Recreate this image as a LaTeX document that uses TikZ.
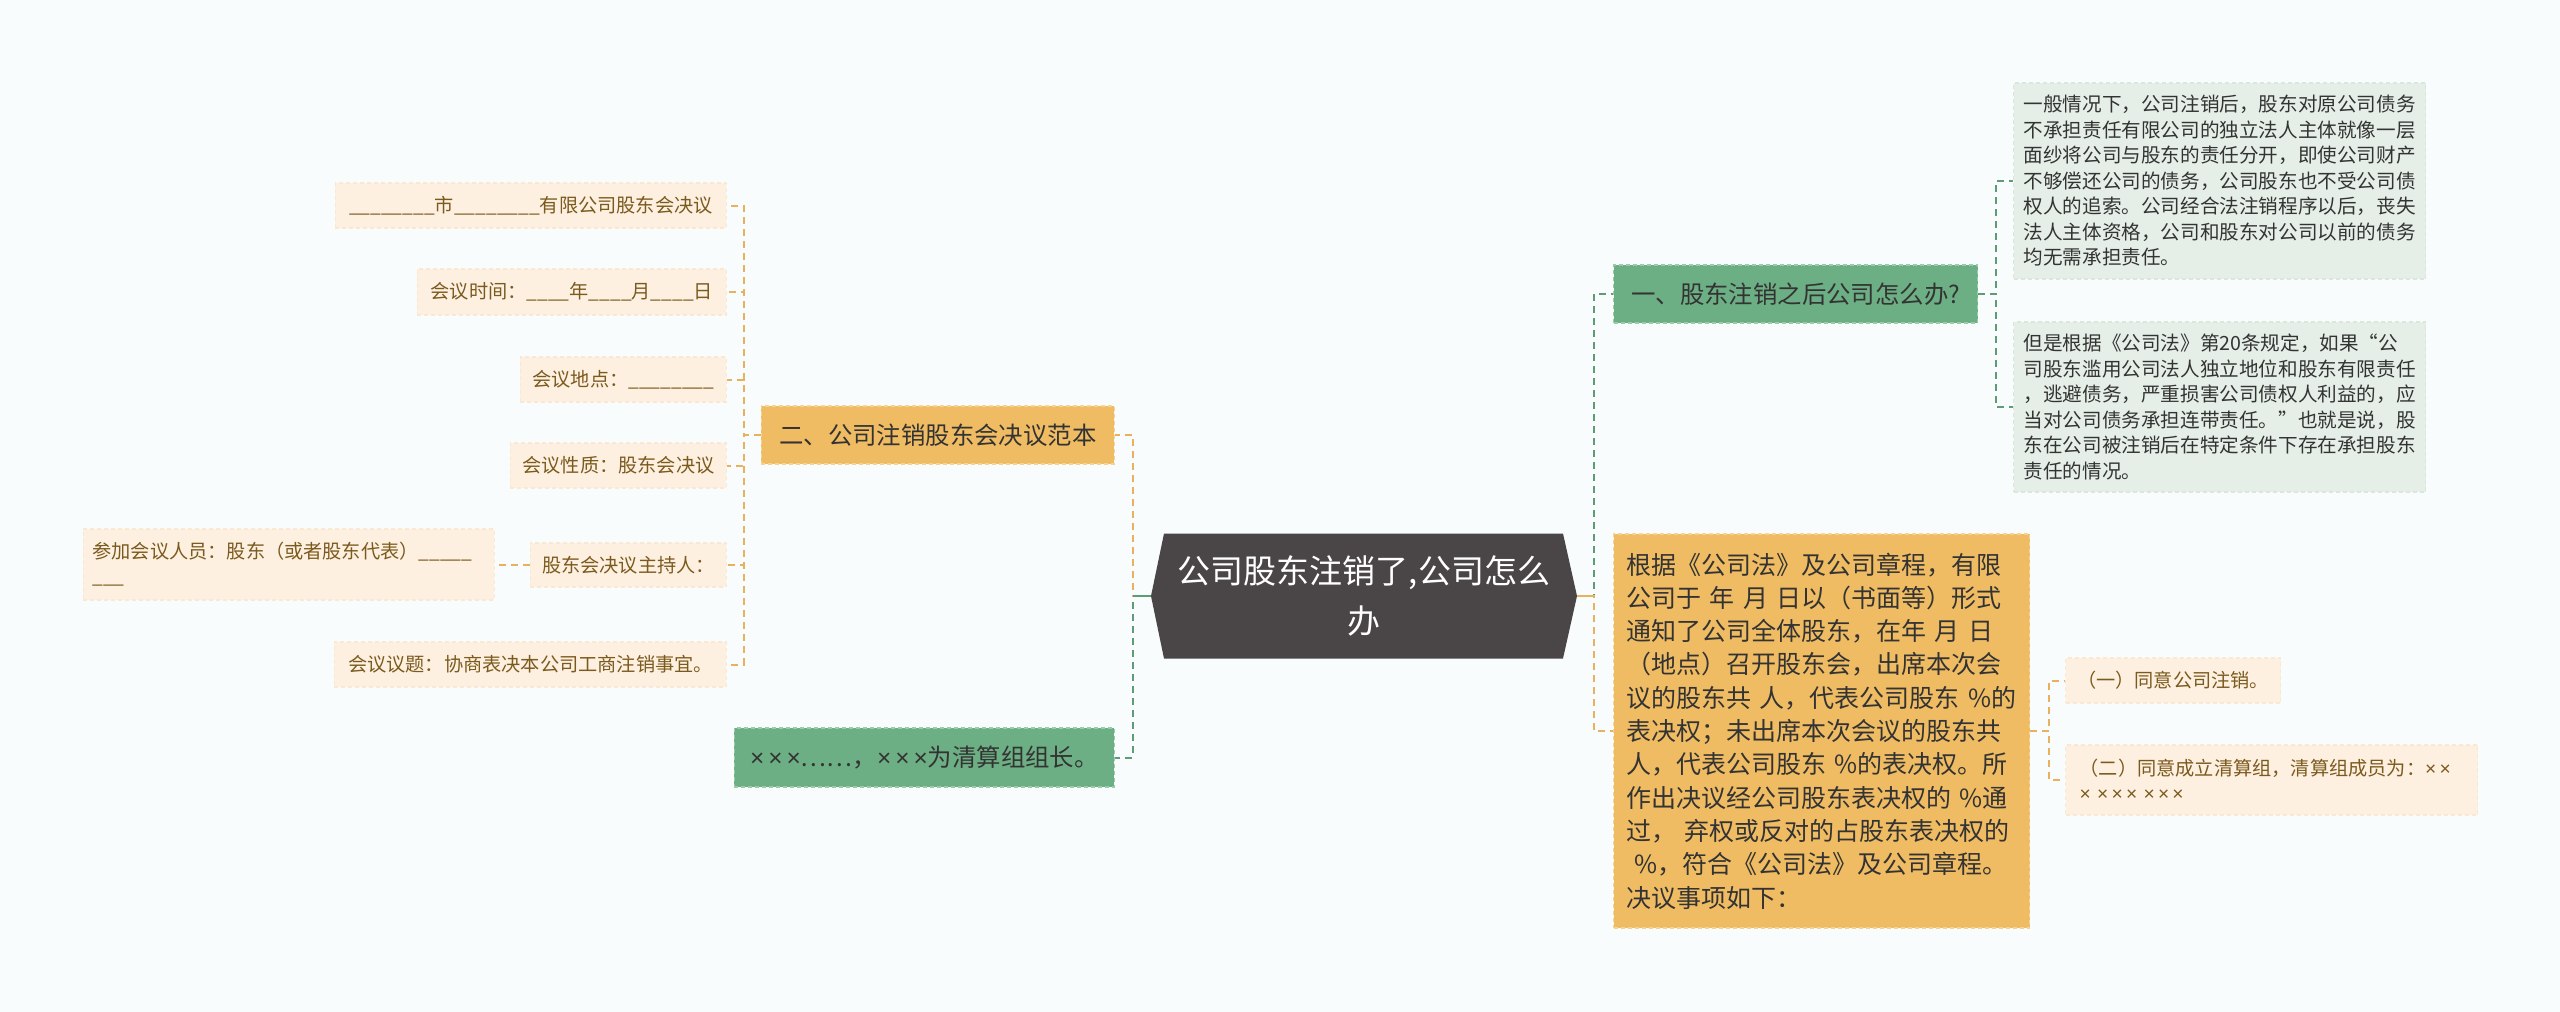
\documentclass[tikz,border=0pt]{standalone}
\usepackage{fontspec}
\setmainfont{Noto Sans CJK SC}
\newfontfamily\latinfont{Liberation Sans}
\usetikzlibrary{calc}
\newcommand{\myfs}[2]{\fontsize{#1}{#2}\selectfont}
\newcommand{\tx}{{\latinfont ×}}
\definecolor{bgc}{HTML}{F8FCFC}
\definecolor{rootc}{HTML}{4A4546}
\definecolor{orF}{HTML}{F0BC63}
\definecolor{orB}{HTML}{F6D393}
\definecolor{grF}{HTML}{6DAF84}
\definecolor{grB}{HTML}{9CCBAA}
\definecolor{beF}{HTML}{FDF0E0}
\definecolor{beB}{HTML}{FAE8D2}
\definecolor{lgF}{HTML}{E5EFE7}
\definecolor{lgB}{HTML}{DAE7DD}
\definecolor{brT}{HTML}{7B5A1E}
\definecolor{dkT}{HTML}{333333}
\definecolor{oE}{HTML}{E7B160}
\definecolor{gE}{HTML}{5E9C75}
\tikzset{
  box/.style={rectangle, inner ysep=0pt, align=center, dash pattern=on 2pt off 1.5pt, line width=0.6pt},
  rootbox/.style={rectangle, inner sep=0pt, align=center, minimum width=213pt, minimum height=62.5pt,
    text=white, font=\myfs{16.5pt}{25pt},
    path picture={\fill[rootc] (path picture bounding box.west)
      -- ([xshift=6.5pt]path picture bounding box.north west)
      -- ([xshift=-7pt]path picture bounding box.north east)
      -- (path picture bounding box.east)
      -- ([xshift=-7pt]path picture bounding box.south east)
      -- ([xshift=6.5pt]path picture bounding box.south west) -- cycle;}},
  obranch/.style={box, fill=orF, draw=orB, text=dkT, font=\myfs{12.2pt}{15pt}, minimum height=29pt},
  gbranch/.style={box, fill=grF, draw=grB, text=dkT, font=\myfs{12.2pt}{15pt}, minimum height=29pt},
  bleaf/.style={box, fill=beF, draw=beB, text=brT, font=\myfs{9.6pt}{12.5pt}, minimum height=22.5pt},
  gleaf/.style={box, fill=lgF, draw=lgB, text=dkT, font=\myfs{9.8pt}{12.75pt}, align=left, inner xsep=5pt, text width=196pt},
  bigbox/.style={box, fill=orF, draw=orB, text=dkT, font=\myfs{12.5pt}{16.65pt}, align=left, inner xsep=6.5pt, text width=195pt, minimum height=197pt},
  oedge/.style={draw=oE, line width=1pt, dash pattern=on 3.5pt off 2.5pt},
  gedge/.style={draw=gE, line width=1pt, dash pattern=on 3.5pt off 2.5pt},
}
\begin{document}
\begin{tikzpicture}[x=0.5pt,y=-0.5pt]
\fill[bgc] (0,0) rectangle (2560,1012);
\useasboundingbox (0,0) rectangle (2560,1012);

% root
\node[rootbox] (root) at (1364,596) {公司股东注销了,公司怎么\\办};

% left branches
\node[obranch, anchor=east, minimum width=176.5pt] (b2) at (1115,435) {二、公司注销股东会决议范本};
\node[gbranch, anchor=east, minimum width=190pt, minimum height=29.5pt] (b3) at (1115,757.5) {\tx\,\tx\,\tx……，\tx\,\tx\,\tx 为清算组组长。};

% left leaves
\node[bleaf, anchor=east, minimum width=195.5pt] (l1) at (727,205.5) {\_\_\_\_\_\_\_\_市\_\_\_\_\_\_\_\_有限公司股东会决议};
\node[bleaf, anchor=east, minimum width=154.5pt, minimum height=23pt] (l2) at (727,292) {会议时间：\_\_\_\_年\_\_\_\_月\_\_\_\_日};
\node[bleaf, anchor=east, minimum width=103pt] (l3) at (727,379.5) {会议地点：\_\_\_\_\_\_\_\_};
\node[bleaf, anchor=east, minimum width=108pt] (l4) at (727,465.5) {会议性质：股东会决议};
\node[bleaf, anchor=east, minimum width=98pt, minimum height=22pt] (l5) at (727,565) {股东会决议主持人：};
\node[bleaf, anchor=east, minimum width=196pt] (l6) at (727,664.5) {会议议题：协商表决本公司工商注销事宜。};
\node[bleaf, anchor=east, align=left, inner xsep=4.5pt, text width=196.5pt, minimum height=35.5pt] (l7) at (495,564.5) {参加会议人员：股东（或者股东代表）\_\_\_\_\_\\\_\_\_};

% right branches
\node[gbranch, anchor=west, minimum width=182pt] (r1) at (1613,294) {一、股东注销之后公司怎么办?};
\node[bigbox, anchor=west] (r2) at (1613,731) {根据《公司法》及公司章程，有限\\公司于 年 月 日以（书面等）形式\\通知了公司全体股东，在年 月 日\\（地点）召开股东会，出席本次会\\议的股东共 人，代表公司股东 \%的\\表决权；未出席本次会议的股东共\\人，代表公司股东 \%的表决权。所\\作出决议经公司股东表决权的 \%通\\过， 弃权或反对的占股东表决权的\\~\%，符合《公司法》及公司章程。\\决议事项如下：};

% right leaves
\node[gleaf, anchor=west, minimum height=98pt] (ra) at (2013,181) {一般情况下，公司注销后，股东对原公司债务\\不承担责任有限公司的独立法人主体就像一层\\面纱将公司与股东的责任分开，即使公司财产\\不够偿还公司的债务，公司股东也不受公司债\\权人的追索。公司经合法注销程序以后，丧失\\法人主体资格，公司和股东对公司以前的债务\\均无需承担责任。};
\node[gleaf, anchor=west, minimum height=85pt] (rb) at (2013,407) {但是根据《公司法》第20条规定，如果“公\\司股东滥用公司法人独立地位和股东有限责任\\，逃避债务，严重损害公司债权人利益的，应\\当对公司债务承担连带责任。”也就是说，股\\东在公司被注销后在特定条件下存在承担股东\\责任的情况。};
\node[bleaf, anchor=west, minimum width=107.5pt] (c1) at (2065,680.5) {（一）同意公司注销。};
\node[bleaf, anchor=west, align=left, inner xsep=7pt, text width=192pt, minimum height=35pt] (c2) at (2065,780) {（二）同意成立清算组，清算组成员为：\tx\,\tx\\\tx{} \tx\,\tx\,\tx{} \tx\,\tx\,\tx};

% connectors: root
\draw[gedge] (root.west) -- ++(-18,0) |- (b3.east);
\draw[oedge] (root.west) -- ++(-18,0) |- (b2.east);
\draw[draw=gE, line width=1pt] (root.west) -- ++(-18,0);
\draw[gedge] (root.east) -- ++(17,0) |- (r1.west);
\draw[oedge] (root.east) -- ++(17,0) |- (r2.west);
\draw[draw=oE, line width=1pt] (root.east) -- ++(17,0);

% left leaves
\foreach \n in {l1,l2,l3,l4,l5,l6}
  \draw[oedge] (b2.west) -- ++(-17,0) |- (\n.east);
\draw[oedge] (l5.west) -- (l5.west -| l7.east);

% right leaves
\draw[gedge] (r1.east) -- ++(18,0) |- (ra.west);
\draw[gedge] (r1.east) -- ++(18,0) |- (rb.west);
\draw[oedge] (r2.east) -- ++(19,0) |- (c1.west);
\draw[oedge] (r2.east) -- ++(19,0) |- (c2.west);
\end{tikzpicture}
\end{document}
